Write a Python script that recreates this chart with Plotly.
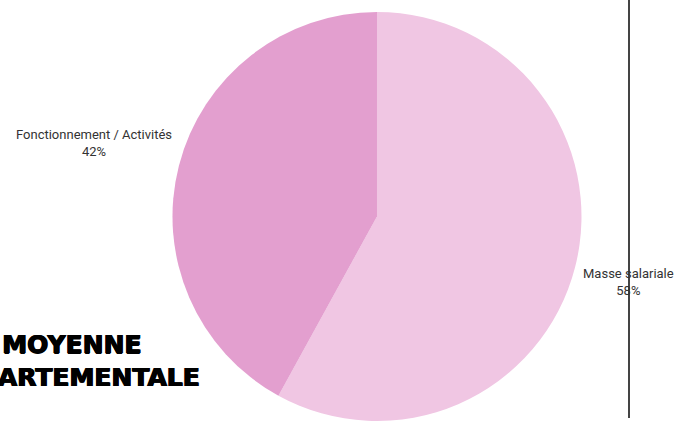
import plotly.graph_objects as go

# Budget split
categories = ["Masse salariale", "Fonctionnement / Activités"]
shares = [58, 42]
slice_colors = ["#f0c6e3", "#e39fcf"]

heading = "MOYENNE<br>DÉPARTEMENTALE"

W, H = 675, 421

fig = go.Figure(
    go.Pie(
        labels=categories,
        values=shares,
        sort=False,
        direction="clockwise",
        rotation=0,
        marker=dict(colors=slice_colors, line=dict(width=0)),
        textinfo="none",
        showlegend=False,
        hoverinfo="label+percent",
        automargin=False,
        domain=dict(x=[0.117, 1.0], y=[0.0, 0.9715]),
    )
)

# slice labels placed beside the pie
label_font = dict(family="Liberation Sans Narrow, Roboto, sans-serif", size=13, color="#333333")
label_spots = {
    "Masse salariale": dict(x=581, y=282, xanchor="left"),
    "Fonctionnement / Activités": dict(x=174, y=143, xanchor="right"),
}
total = sum(shares)
for name, val in zip(categories, shares):
    spot = label_spots[name]
    fig.add_annotation(
        text=f"{name}<br>{round(100 * val / total)}%",
        xref="paper", yref="paper",
        x=spot["x"] / W, y=1 - spot["y"] / H,
        xanchor=spot["xanchor"], yanchor="middle",
        align="center", showarrow=False,
        font=label_font,
    )

fig.add_annotation(
    text=heading,
    xref="paper", yref="paper",
    x=72 / W, y=1 - 361 / H,
    xanchor="center", yanchor="middle",
    showarrow=False,
    align="center",
    font=dict(family="DejaVu Sans, sans-serif", size=25, color="#000000", weight=900,
              shadow="0.7px 0 0 #000, -0.7px 0 0 #000, 0 0.5px 0 #000"),
)

# vertical divider on the right
fig.add_shape(
    type="line", xref="paper", yref="paper",
    x0=629 / W, x1=629 / W, y0=1 - 418 / H, y1=1.0,
    line=dict(color="#444444", width=2),
)

fig.update_layout(
    width=W, height=H,
    margin=dict(l=0, r=0, t=0, b=0, autoexpand=False),
    paper_bgcolor="white",
    plot_bgcolor="white",
)

fig.write_html("out.html")
